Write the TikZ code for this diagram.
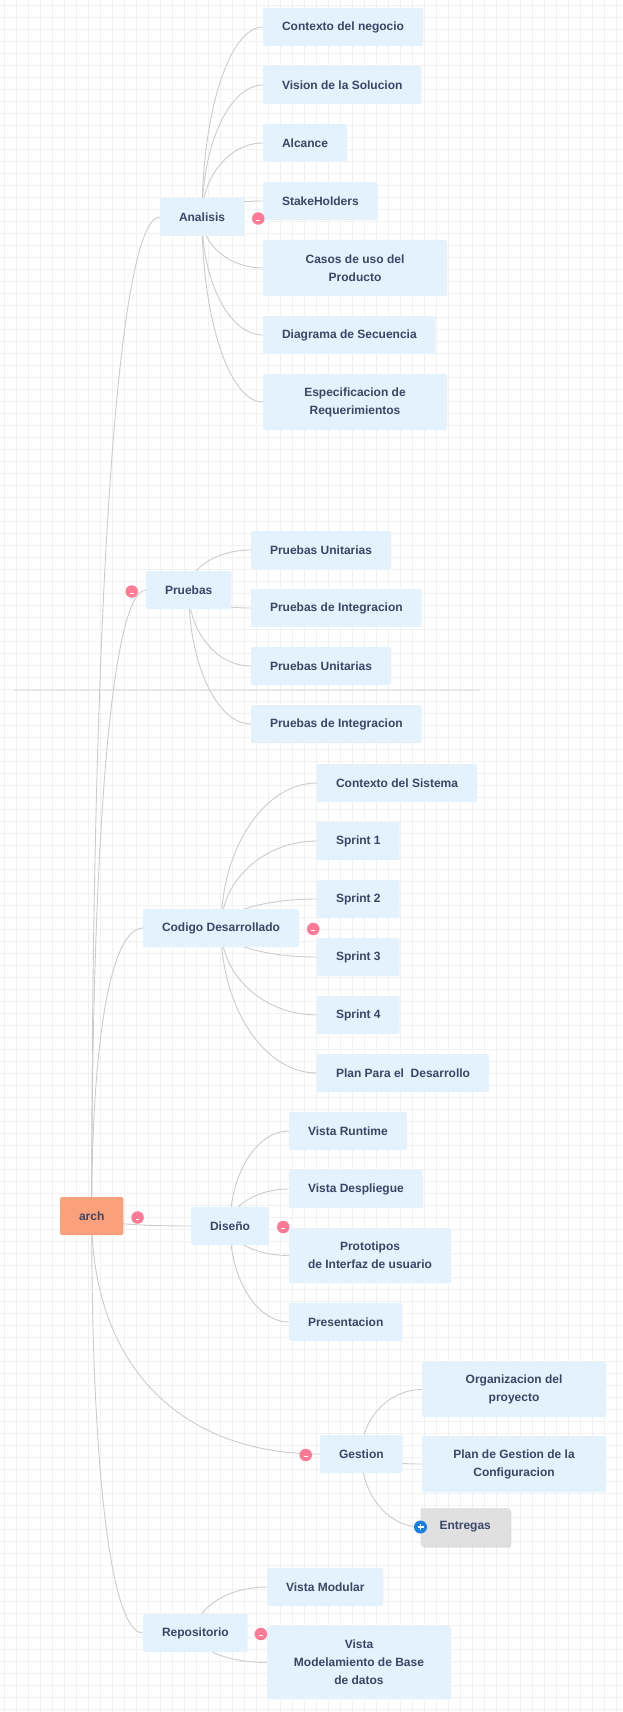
\documentclass[tikz,border=0pt]{standalone}
\usepackage{fontspec}
\setmainfont{Liberation Sans}
\usepackage{tikz}
\usetikzlibrary{positioning, backgrounds, shadows, calc}

\definecolor{topicfill}{RGB}{227,242,253}
\definecolor{rootfill}{RGB}{250,160,122}
\definecolor{ink}{RGB}{59,69,102}
\definecolor{linkgray}{RGB}{204,204,204}
\definecolor{gridgray}{RGB}{241,241,241}
\definecolor{seamgray}{RGB}{230,230,230}
\definecolor{foldpink}{RGB}{255,122,148}
\definecolor{foldblue}{RGB}{24,128,228}
\definecolor{closedfill}{RGB}{224,224,224}

\begin{document}
\begin{tikzpicture}[
  x=1pt, y=-1pt,
  every node/.style={font=\bfseries\fontsize{12}{18}\selectfont, text=ink, outer sep=0pt},
  topic/.style={fill=topicfill, rounded corners=2pt, minimum height=38pt, inner xsep=19pt, inner ysep=4pt, align=center, anchor=north west},
  wide/.style={minimum width=184pt, minimum height=56pt},
  central/.style={fill=rootfill},
  closed/.style={fill=closedfill, drop shadow={opacity=0.25, shadow xshift=1.5pt, shadow yshift=-1.5pt}},
  beneath/.style={below=20pt of #1.south west, anchor=north west},
  fold/.style={circle, fill=foldpink, minimum size=12.5pt, inner sep=0pt,
    path picture={\draw[white, line width=1pt] ([xshift=-1.8pt, yshift=-1.8pt]path picture bounding box.center) -- ++(3.6pt,0pt);}},
  unfold/.style={circle, fill=foldblue, minimum size=13pt, inner sep=0pt,
    path picture={\draw[white, line width=1.2pt] ([xshift=-3pt]path picture bounding box.center) -- ++(6pt,0pt)
      ([yshift=-3pt]path picture bounding box.center) -- ++(0pt,6pt);}},
  link/.style={draw=linkgray, line width=0.9pt,
    to path={.. controls ($(\tikztostart)!#1!(\tikztostart |- \tikztotarget)$)
      and ($(\tikztotarget)!#1!(\tikztostart |- \tikztotarget)$) .. (\tikztotarget)}},
  link/.default=0.55,
  gridline/.style={draw=gridgray, line width=0.8pt},
  seam/.style={draw=seamgray, line width=1.5pt}
]
\useasboundingbox (0,0) rectangle (623,1712);

% Central topic
\node[topic, central] (arch) at (60,1197) {arch};

% Analisis
\node[topic] (analisis) at (160,198) {Analisis};
\node[topic] (ctx) at (263,8) {Contexto del negocio};
\node[topic, beneath=ctx] (vision) {Vision de la Solucion};
\node[topic, beneath=vision] (alcance) {Alcance};
\node[topic, beneath=alcance] (stake) {StakeHolders};
\node[topic, wide, beneath=stake] (casos) {Casos de uso del\\Producto};
\node[topic, beneath=casos] (secuencia) {Diagrama de Secuencia};
\node[topic, wide, beneath=secuencia] (requisitos) {Especificacion de\\Requerimientos};

% Pruebas
\node[topic] (pruebas) at (146,571) {Pruebas};
\node[topic] (unit1) at (251,531) {Pruebas Unitarias};
\node[topic, beneath=unit1] (integ1) {Pruebas de Integracion};
\node[topic, beneath=integ1] (unit2) {Pruebas Unitarias};
\node[topic, beneath=unit2] (integ2) {Pruebas de Integracion};

% Codigo
\node[topic] (codigo) at (143,909) {Codigo Desarrollado};
\node[topic] (ctxsis) at (317,764) {Contexto del Sistema};
\node[topic, beneath=ctxsis] (sprint1) {Sprint 1};
\node[topic, beneath=sprint1] (sprint2) {Sprint 2};
\node[topic, beneath=sprint2] (sprint3) {Sprint 3};
\node[topic, beneath=sprint3] (sprint4) {Sprint 4};
\node[topic, beneath=sprint4] (plandes) {Plan Para el\ \ Desarrollo};

% Diseno
\node[topic] (diseno) at (191,1207) {Diseño};
\node[topic] (runtime) at (289,1112) {Vista Runtime};
\node[topic, beneath=runtime] (despliegue) {Vista Despliegue};
\node[topic, beneath=despliegue, minimum height=55pt] (prototipos) {Prototipos\\de Interfaz de usuario};
\node[topic, beneath=prototipos] (presentacion) {Presentacion};

% Gestion
\node[topic] (gestion) at (320,1435) {Gestion};
\node[topic, wide, minimum height=55pt] (organizacion) at (422,1362) {Organizacion del\\proyecto};
\node[topic, wide, below=19pt of organizacion.south west, anchor=north west] (configuracion) {Plan de Gestion de la\\Configuracion};
\node[topic, closed, below=16pt of configuracion.south west, anchor=north west, xshift=-1.5pt] (entregas) {Entregas};

% Repositorio
\node[topic] (repositorio) at (143,1614) {Repositorio};
\node[topic] (modular) at (267,1568) {Vista Modular};
\node[topic, wide, minimum height=73pt, beneath=modular] (modelamiento) {Vista\\Modelamiento de Base\\de datos};

% Fold buttons
\node[fold, right=8pt of arch, yshift=-1.5pt] (archfold) {};
\node[fold, right=8pt of analisis, yshift=-1.5pt] (analisisfold) {};
\node[fold, left=8pt of pruebas, yshift=-1.5pt] (pruebasfold) {};
\node[fold, right=8pt of codigo, yshift=-1pt] (codigofold) {};
\node[fold, right=8pt of diseno, yshift=-1pt] (disenofold) {};
\node[fold, left=8pt of gestion, yshift=-1pt] (gestionfold) {};
\node[fold, right=7pt of repositorio, yshift=-1pt] (repositoriofold) {};
\node[unfold] (entregasfold) at (entregas.west) {};

\begin{scope}[on background layer]
  % Paper
  \fill[white] (0,0) rectangle (623,1712);
  \foreach \gx in {4,16,...,616} \draw[gridline] (\gx,0) -- (\gx,1712);
  \foreach \gy in {5,17,...,1709} \draw[gridline] (0,\gy) -- (623,\gy);
  \draw[seam] (14,690) -- (480,690);

  % Links
  \draw[link=0.62] (arch.center) to (analisis.west);
  \draw[link=0.62] (arch.center) to (pruebas.west);
  \draw[link=0.62] (arch.center) to (codigo.west);
  \draw[link=0.62] (arch.center) to (diseno.west);
  \draw[link=0.62] (arch.center) to (gestion.west);
  \draw[link=0.62] (arch.center) to (repositorio.west);

  \draw[link] (analisis.center) to (ctx.west);
  \draw[link] (analisis.center) to (vision.west);
  \draw[link] (analisis.center) to (alcance.west);
  \draw[link] (analisis.center) to (stake.west);
  \draw[link] (analisis.center) to (casos.west);
  \draw[link] (analisis.center) to (secuencia.west);
  \draw[link] (analisis.center) to (requisitos.west);

  \draw[link] (pruebas.center) to (unit1.west);
  \draw[link] (pruebas.center) to (integ1.west);
  \draw[link] (pruebas.center) to (unit2.west);
  \draw[link] (pruebas.center) to (integ2.west);

  \draw[link] (codigo.center) to (ctxsis.west);
  \draw[link] (codigo.center) to (sprint1.west);
  \draw[link] (codigo.center) to (sprint2.west);
  \draw[link] (codigo.center) to (sprint3.west);
  \draw[link] (codigo.center) to (sprint4.west);
  \draw[link] (codigo.center) to (plandes.west);

  \draw[link] (diseno.center) to (runtime.west);
  \draw[link] (diseno.center) to (despliegue.west);
  \draw[link] (diseno.center) to (prototipos.west);
  \draw[link] (diseno.center) to (presentacion.west);

  \draw[link] (gestion.center) to (organizacion.west);
  \draw[link] (gestion.center) to (configuracion.west);
  \draw[link] (gestion.center) to (entregas.west);

  \draw[link] (repositorio.center) to (modular.west);
  \draw[link] (repositorio.center) to (modelamiento.west);
\end{scope}

\end{tikzpicture}
\end{document}
